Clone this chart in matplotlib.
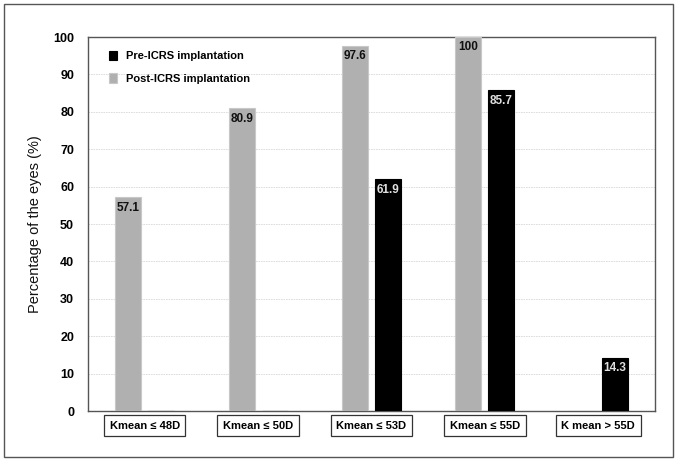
import matplotlib.pyplot as plt
import numpy as np
from matplotlib.patches import Rectangle

plt.rcParams.update({'font.family': 'Liberation Sans', 'font.size': 9})

groups = ['Kmean ≤ 48D', 'Kmean ≤ 50D', 'Kmean ≤ 53D', 'Kmean ≤ 55D', 'K mean > 55D']
pre_icrs = [0, 0, 61.9, 85.7, 14.3]
post_icrs = [57.1, 80.9, 97.6, 100, 0]

x = np.arange(len(groups))
w = 0.23
off = 0.145

fig = plt.figure(figsize=(6.77, 4.61), dpi=100)
ax = fig.add_axes([88/677, 1 - 411/461, (655-88)/677, (411-37)/461])

# outer frame around the whole figure
fig.patches.append(Rectangle((4/677, 4/461), 669/677, 453/461, transform=fig.transFigure,
                             fill=False, edgecolor='#555555', linewidth=1.0))

post_bars = ax.bar(x - off, post_icrs, w, color='#b0b0b0', edgecolor='#c8c8c8',
                   linewidth=0.8, label='Post-ICRS implantation', zorder=3)
pre_bars = ax.bar(x + off, pre_icrs, w, color='black', edgecolor='black',
                  linewidth=0.8, label='Pre-ICRS implantation', zorder=3)

for b, v in zip(post_bars, post_icrs):
    if v > 0:
        ax.text(b.get_x() + b.get_width()/2, v - 1.2, f'{v:g}', ha='center', va='top',
                fontsize=8.5, fontweight='bold', color='#111111', zorder=4)
for b, v in zip(pre_bars, pre_icrs):
    if v > 0:
        ax.text(b.get_x() + b.get_width()/2, v - 1.2, f'{v:g}', ha='center', va='top',
                fontsize=8.5, fontweight='bold', color='#e0e0e0', zorder=4)

ax.set_xlim(-0.5, len(groups) - 0.5)
ax.set_ylim(0, 100)
ax.set_yticks(range(0, 101, 10))
ax.tick_params(axis='y', length=0, pad=10, labelsize=9)
for t in ax.get_yticklabels():
    t.set_fontweight('bold')
ax.grid(axis='y', color='#d8d8d8', linestyle=(0, (2, 1)), linewidth=0.6, zorder=0)
for s in ax.spines.values():
    s.set_color('#555555')
    s.set_linewidth(1.0)

ax.set_xticks(x)
ax.set_xticklabels(groups, fontweight='bold', fontsize=8)
ax.tick_params(axis='x', length=0, pad=7)
for t in ax.get_xticklabels():
    t.set_bbox(dict(boxstyle='square,pad=0.5', facecolor='white', edgecolor='#333333',
                    linewidth=0.9))

ax.set_ylabel('Percentage of the eyes (%)', fontsize=10.5, labelpad=8, color='#111111')

handles, labels = ax.get_legend_handles_labels()
leg = ax.legend(handles[::-1], labels[::-1], loc='upper left', bbox_to_anchor=(0.02, 0.99),
                frameon=False, fontsize=8, handlelength=0.7, handleheight=0.9,
                labelspacing=1.1, handletextpad=0.8)
for t in leg.get_texts():
    t.set_fontweight('bold')

fig.savefig('out.png', dpi=100)
